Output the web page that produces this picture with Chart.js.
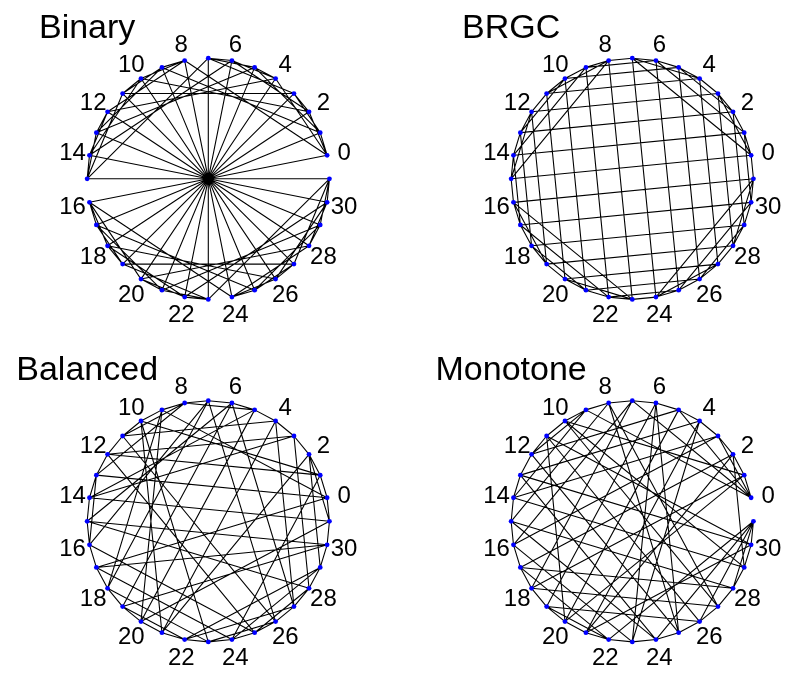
<!DOCTYPE html>
<html>
<head>
<meta charset="utf-8">
<script src="https://cdn.jsdelivr.net/npm/chart.js@4.4.0/dist/chart.umd.min.js"></script>
<style>
  html, body { margin: 0; padding: 0; background: #ffffff; }
  body { width: 787px; height: 675px; overflow: hidden; position: relative; }
  canvas { position: absolute; }
</style>
</head>
<body>
<canvas id="panel0" width="420" height="340"></canvas>
<canvas id="panel1" width="420" height="340"></canvas>
<canvas id="panel2" width="420" height="340"></canvas>
<canvas id="panel3" width="420" height="340"></canvas>
<script>
// 5-bit codewords in sequence order; position i sits on the circle at angle (i+1)*360/32 degrees.
const binaryCode = [
  '00000','00001','00010','00011','00100','00101','00110','00111',
  '01000','01001','01010','01011','01100','01101','01110','01111',
  '10000','10001','10010','10011','10100','10101','10110','10111',
  '11000','11001','11010','11011','11100','11101','11110','11111'
];
const brgcCode = [
  '00000','00001','00011','00010','00110','00111','00101','00100',
  '01100','01101','01111','01110','01010','01011','01001','01000',
  '11000','11001','11011','11010','11110','11111','11101','11100',
  '10100','10101','10111','10110','10010','10011','10001','10000'
];
// cyclic, transition counts (6, 6, 6, 6, 8)
const balancedCode = [
  '00000','00100','10100','10110','11110','11010','11011','01011',
  '01010','01000','01100','01110','00110','00010','10010','10011',
  '00011','00001','01001','11001','11000','11100','11101','01101',
  '00101','00111','01111','11111','10111','10101','10001','10000'
];
// Savage-Winkler G1 = P(5,0) P(5,1)^R P(5,2) P(5,3)^R P(5,4)
const monotoneCode = [
  '00000','00001','00011','00010','00110','00100','01100','01000',
  '11000','10000','10001','10101','10100','10110','10010','11010',
  '01010','01011','01001','01101','00101','00111','01111','01110',
  '11110','11100','11101','11001','11011','10011','10111','11111'
];
const panelTitles = ['Binary', 'BRGC', 'Balanced', 'Monotone'];
const panelCodes = [binaryCode, brgcCode, balancedCode, monotoneCode];
const tickPositions = [0, 2, 4, 6, 8, 10, 12, 14, 16, 18, 20, 22, 24, 26, 28, 30];
const tickLabels = ['0', '2', '4', '6', '8', '10', '12', '14', '16', '18', '20', '22', '24', '26', '28', '30'];

// page layout of the four circles (centre in page pixels, radius in pixels)
const panelCentres = [[208.3, 178.8], [632.3, 178.8], [208.3, 521.3], [632.3, 521.3]];
const RADIUS_PX = 123.5;
const CANVAS_W = 420, CANVAS_H = 340;

const N = 32;
const angleOf = i => (i + 1) * 2 * Math.PI / N;
const onCircle = (i, r) => ({ x: r * Math.cos(angleOf(i)), y: r * Math.sin(angleOf(i)) });

// vertices of the 5-cube, one per code position
function vertexData(code) {
  return code.map((_, i) => onCircle(i, 1));
}

// chords join every two positions whose codewords differ in exactly one bit
function chordData(code) {
  const words = code.map(s => parseInt(s, 2));
  const out = [];
  for (let i = 0; i < words.length; i++) {
    for (let j = i + 1; j < words.length; j++) {
      const d = words[i] ^ words[j];
      if (d && (d & (d - 1)) === 0) {
        out.push(onCircle(i, 1), onCircle(j, 1), { x: NaN, y: NaN });
      }
    }
  }
  return out;
}

const FONT = '"Liberation Sans", Arial, Helvetica, sans-serif';

const ringLabels = {
  id: 'ringLabels',
  afterDatasetsDraw(chart, args, opts) {
    const { ctx } = chart;
    const xs = chart.scales.x, ys = chart.scales.y;
    ctx.save();
    ctx.fillStyle = '#000000';
    ctx.textAlign = 'center';
    ctx.textBaseline = 'middle';
    ctx.font = '24px ' + FONT;
    tickPositions.forEach((p, k) => {
      const q = onCircle(p, 1.143);
      ctx.fillText(tickLabels[k], xs.getPixelForValue(q.x), ys.getPixelForValue(q.y) + 1.5);
    });
    ctx.font = '34px ' + FONT;
    ctx.textBaseline = 'alphabetic';
    ctx.fillText(opts.text, xs.getPixelForValue(-1), ys.getPixelForValue(1.17));
    ctx.restore();
  }
};

panelCodes.forEach((code, k) => {
  const [cx, cy] = panelCentres[k];
  const left = Math.round(cx - CANVAS_W / 2);
  const top = Math.round(cy - CANVAS_H / 2);
  const canvas = document.getElementById('panel' + k);
  canvas.style.left = left + 'px';
  canvas.style.top = top + 'px';

  new Chart(canvas, {
    type: 'scatter',
    data: {
      datasets: [
        {
          data: vertexData(code),
          pointRadius: 2.4,
          pointBackgroundColor: '#0000ff',
          pointBorderWidth: 0,
          showLine: false,
          order: 0
        },
        {
          data: chordData(code),
          showLine: true,
          spanGaps: false,
          borderColor: '#000000',
          borderWidth: 1.1,
          pointRadius: 0,
          order: 1
        }
      ]
    },
    options: {
      responsive: false,
      animation: false,
      devicePixelRatio: 1,
      events: [],
      layout: { padding: 0 },
      plugins: {
        legend: { display: false },
        tooltip: { enabled: false },
        ringLabels: { text: panelTitles[k] }
      },
      scales: {
        x: {
          type: 'linear', display: false,
          min: -(cx - left) / RADIUS_PX, max: (left + CANVAS_W - cx) / RADIUS_PX
        },
        y: {
          type: 'linear', display: false,
          min: -(top + CANVAS_H - cy) / RADIUS_PX, max: (cy - top) / RADIUS_PX
        }
      }
    },
    plugins: [ringLabels]
  });
});
</script>
</body>
</html>
